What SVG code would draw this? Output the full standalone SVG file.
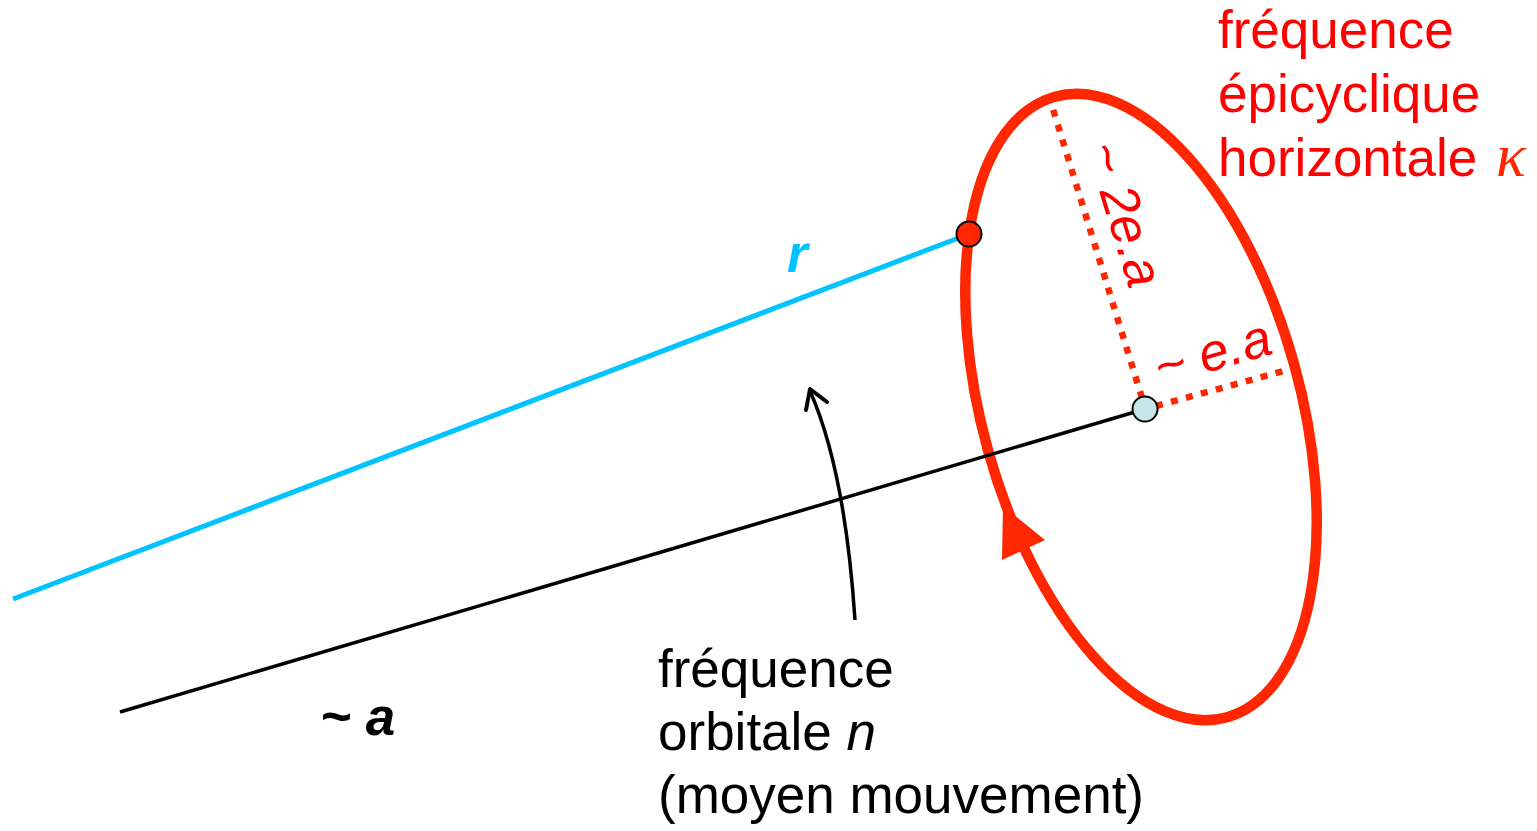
<svg xmlns="http://www.w3.org/2000/svg" width="1537" height="831" viewBox="0 0 1537 831">
<style>
.t{font-family:"Liberation Sans",Arial,Helvetica,sans-serif;font-size:53px}
.red{fill:#FF0000}
.blk{fill:#000}
.it{font-style:italic}
.bi{font-style:italic;font-weight:bold}
.dot{stroke:#FF2600;stroke-width:6.5;stroke-dasharray:7 8.5;fill:none}
</style>
<rect width="1537" height="831" fill="#fff"/>
<g id="connectors">
<line id="r-line" x1="13" y1="599" x2="969" y2="234" stroke="#00C3FF" stroke-width="5"/>
<ellipse id="epicycle" cx="1141" cy="407" rx="159" ry="322" transform="rotate(-15.5 1141 407)" fill="none" stroke="#FF2600" stroke-width="10.5"/>
<polygon id="epicycle-arrow" points="1003,506 1045,540 1002,560" fill="#FF2600"/>
<line id="a-line" x1="120" y1="712" x2="1145" y2="409" stroke="#000" stroke-width="3.5"/>
<line id="major" class="dot" x1="1142" y1="398" x2="1052" y2="106"/>
<line id="minor" class="dot" x1="1156" y1="406" x2="1291" y2="369"/>
<path id="orbit-arrow" d="M855,620 Q845,470 810,391" fill="none" stroke="#000" stroke-width="3.5"/>
<polyline points="806,410 810,389 827,402" fill="none" stroke="#000" stroke-width="4" stroke-linecap="round" stroke-linejoin="round"/>
</g>
<g id="star"><circle cx="969" cy="234" r="12.5" fill="#FF2600" stroke="#000" stroke-width="2"/></g>
<g id="guiding-center"><circle cx="1145" cy="409" r="12.5" fill="#C5E5E6" stroke="#000" stroke-width="2"/></g>
<g id="label-kappa">
<text class="t red" x="1218" y="48">fréquence</text>
<text class="t red" x="1218" y="112">épicyclique</text>
<text class="t red" x="1218" y="176">horizontale</text>
<text x="1496" y="176" style="font-family:'Liberation Serif','Times New Roman',serif;font-size:62px;font-style:italic" fill="#FF2600">κ</text>
</g>
<g id="label-2ea"><text class="t red it" transform="translate(1086 148) rotate(73)">~ 2e.a</text></g>
<g id="label-ea"><text class="t red it" transform="translate(1160 386) rotate(-16)">~ e.a</text></g>
<g id="label-r"><text class="t bi" x="787" y="272" fill="#00C3FF">r</text></g>
<g id="label-a"><text class="t bi blk" x="320" y="735">~ a</text></g>
<g id="label-n">
<text class="t blk" x="658" y="687">fréquence</text>
<text class="t blk" x="658" y="750">orbitale <tspan class="it">n</tspan></text>
<text class="t blk" x="658" y="813">(moyen mouvement)</text>
</g>
</svg>
